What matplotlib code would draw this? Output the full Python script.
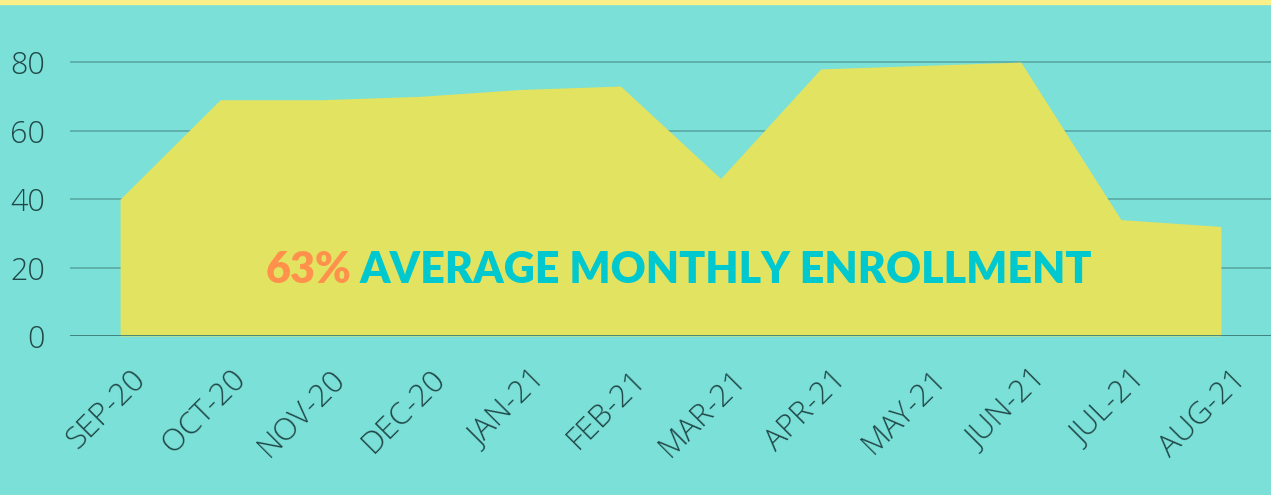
import matplotlib.pyplot as plt
import numpy as np
from matplotlib.transforms import ScaledTranslation

months = ['SEP-20', 'OCT-20', 'NOV-20', 'DEC-20', 'JAN-21', 'FEB-21',
          'MAR-21', 'APR-21', 'MAY-21', 'JUN-21', 'JUL-21', 'AUG-21']
enrollment = [40, 69, 69, 70, 72, 73, 46, 78, 79, 80, 34, 32]
yticks = [0, 20, 40, 60, 80]

BG = '#7ae0d8'
AREA = '#e2e360'
GRID = '#5fb0aa'
TXT = '#214848'

fig = plt.figure(figsize=(12.71, 4.95), dpi=100)
fig.patch.set_facecolor(BG)
# pale yellow strip at the very top
fig.add_artist(plt.Rectangle((0, 0.992), 1, 0.008, transform=fig.transFigure,
                             color='#fbef8a', zorder=0))

ax = fig.add_axes([0.0551, 0.3212, 0.9449, 0.6226])
ax.set_facecolor(BG)
x = np.arange(len(months))
ax.fill_between(x, enrollment, 0, color=AREA, linewidth=0, zorder=2)

ax.set_xlim(-0.5, 11.5)
ax.set_ylim(0, 90)
ax.set_yticks(yticks)
ax.yaxis.grid(True, color=GRID, linewidth=1.4, zorder=1)
ax.set_axisbelow(True)
for s in ax.spines.values():
    s.set_visible(False)
ax.axhline(0, color='#3f7f7a', linewidth=2, zorder=3)

ax.tick_params(axis='y', length=0, pad=18, labelsize=22, labelcolor=TXT)
ax.tick_params(axis='x', length=0, pad=20, labelsize=22.5, labelcolor=TXT)
for lab in ax.get_yticklabels():
    lab.set_fontfamily('Open Sans')
    lab.set_fontweight('light')

ax.set_xticks(x)
ax.set_xticklabels(months, rotation=45, ha='right', va='center',
                   rotation_mode='anchor', family='Open Sans', fontweight='light')
off = ScaledTranslation(0.21, -0.11, fig.dpi_scale_trans)
for lab in ax.get_xticklabels():
    lab.set_transform(lab.get_transform() + off)

ax.text(1.45, 19.3, '63%', color='#ff914d', fontsize=31, fontweight='heavy',
        family='Lato', ha='left', va='center', zorder=5)
ax.text(2.39, 19.3, 'AVERAGE MONTHLY ENROLLMENT', color='#00c8cf', fontsize=31,
        fontweight='heavy', family='Lato', ha='left', va='center', zorder=5)

fig.savefig('out.png', dpi=100, facecolor=BG)
